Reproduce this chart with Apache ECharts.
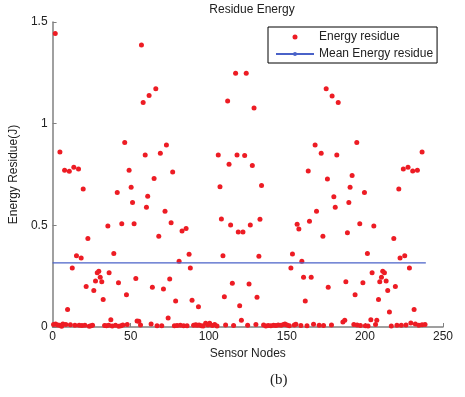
<!DOCTYPE html>
<html>
<head>
<meta charset="utf-8">
<script src="https://cdn.jsdelivr.net/npm/echarts@6/dist/echarts.min.js"></script>
<style>html,body{margin:0;padding:0;background:#fff;}#c{width:465px;height:397px;}</style>
</head>
<body>
<div id="c"></div>
<script>
// Nodes with noticeable residual energy
var highNodes = [1.7,4.7,7.7,10.7,13.6,16.6,19.6,15.3,18.3,12.6,22.6,21.5,9.6,26.4,27.5,28.6,29.6,30.5,31.5,32.4,
  35.4,36.2,39.2,37.3,41.4,42.2,44.3,46.2,47.3,49.0,50.3,51.2,52.2,53.3,54.1,55.2,56.9,58.0,59.3,60.1,60.9,61.8,
  66.1,65.0,69.0,72.9,76.9,72.0,75.9,68.0,82.9,85.5,87.4,81.0,88.2,75.0,63.9,71.0,78.8,89.3,93.4,74.0,
  117.2,124.0,112.1,106.1,118.1,123.0,113.0,107.2,108.1,114.0,118.9,121.9,126.6,109.1,115.1,125.8,110.0,119.8,120.9,
  129.0,127.9,133.8,132.8,132.1,130.9,153.6,152.6,159.6,160.7,165.6,161.8,156.6,157.7,164.5,169.0,173.1,163.7,168.1,
  172.0,176.0,180.1,181.0,182.0,175.2,179.0,182.9,176.5,187.8,188.8,189.7,190.5,194.8,191.8,199.7,196.7,205.7,201.6,
  198.7,193.7,204.6,211.4,212.5,210.6,209.5,213.6,214.6,219.5,208.7,215.7,203.8,207.6,218.5,222.5,225.5,228.5,231.5,
  221.7,224.6,227.6,230.6,233.6,236.6];
var highEnergy = [1.443,0.861,0.771,0.766,0.786,0.777,0.679,0.351,0.339,0.290,0.435,0.199,0.086,0.180,0.226,0.267,0.274,0.245,0.222,0.135,
  0.497,0.267,0.362,0.036,0.661,0.218,0.508,0.907,0.159,0.771,0.687,0.612,0.508,0.238,0.030,0.028,1.387,1.104,0.846,0.589,0.643,1.138,
  1.172,0.730,0.854,0.895,0.762,0.569,0.513,0.446,0.472,0.484,0.358,0.323,0.290,0.236,0.195,0.187,0.128,0.131,0.100,0.044,
  1.248,1.248,1.112,0.846,0.846,0.843,0.800,0.690,0.531,0.502,0.467,0.467,0.502,0.351,0.215,0.212,0.149,0.105,0.033,
  1.077,0.794,0.696,0.530,0.348,0.146,0.359,0.290,0.323,0.245,0.245,0.128,0.505,0.482,0.520,0.569,0.446,0.767,0.895,
  0.854,0.728,0.641,0.589,0.846,1.172,1.136,1.104,0.195,0.222,0.464,0.612,0.687,0.907,0.745,0.661,0.508,0.497,0.362,
  0.218,0.159,0.267,0.274,0.267,0.245,0.222,0.226,0.180,0.199,0.135,0.074,0.036,0.033,0.435,0.339,0.351,0.290,0.086,
  0.679,0.777,0.786,0.767,0.771,0.861];
// Nearly depleted nodes
var lowNodes = [0.6,1.9,3.3,4.5,5.8,6.6,8.5,11.4,14.3,17.0,18.8,20.7,23.5,24.6,25.6,33.3,34.5,36.0,38.2,40.3,42.4,43.8,45.0,47.8,
  56.3,63.1,66.9,69.9,78.0,79.7,81.8,83.9,86.1,90.3,91.6,92.5,93.8,95.3,96.4,98.0,99.5,100.6,102.3,103.8,105.3,110.8,115.9,
  124.9,130.2,135.1,136.6,138.1,139.8,141.5,143.0,144.5,146.3,147.9,148.8,150.1,151.6,154.8,155.8,159.0,162.9,167.1,170.7,
  173.5,178.6,185.9,187.1,192.9,195.0,197.1,200.3,202.0,206.8,216.9,220.5,223.3,226.3,229.4,232.3,234.5,236.6,238.5];
var lowEnergy = [0.012,0.015,0.010,0.008,0.004,0.015,0.012,0.011,0.009,0.008,0.007,0.008,0.004,0.006,0.009,0.007,0.006,0.008,0.005,0.008,0.004,0.006,0.010,0.012,
  0.010,0.015,0.006,0.006,0.006,0.007,0.008,0.006,0.006,0.009,0.011,0.008,0.010,0.006,0.005,0.018,0.010,0.018,0.007,0.012,0.005,0.010,0.007,
  0.008,0.012,0.010,0.005,0.007,0.006,0.009,0.007,0.010,0.008,0.012,0.015,0.010,0.006,0.010,0.013,0.007,0.006,0.014,0.008,
  0.007,0.010,0.025,0.033,0.012,0.010,0.007,0.006,0.005,0.012,0.005,0.008,0.009,0.010,0.020,0.015,0.008,0.011,0.012];
var meanNodes = [0, 239];
var meanValue = 0.315;
var xTicks = [0, 50, 100, 150, 200, 250];
var yTicks = [0, 0.5, 1, 1.5];

var pts = [];
highNodes.forEach(function(x, i){ pts.push([x, highEnergy[i]]); });
lowNodes.forEach(function(x, i){ pts.push([x, lowEnergy[i]]); });
var meanLine = meanNodes.map(function(x){ return [x, meanValue]; });

var font = 'Liberation Sans, Arial, sans-serif';
var chart = echarts.init(document.getElementById('c'));
chart.setOption({
  animation: false,
  backgroundColor: '#fff',
  title: {
    text: 'Residue Energy', left: 247, top: -1, textAlign: 'center',
    textStyle: {fontFamily: font, fontSize: 12, fontWeight: 'normal', color: '#222'}
  },
  legend: {
    orient: 'vertical', left: 268, top: 27,
    itemWidth: 38, itemHeight: 5, itemGap: 3,
    padding: [3, 4, 2, 7],
    borderColor: '#000', borderWidth: 1,
    textStyle: {fontFamily: font, fontSize: 12, color: '#222', lineHeight: 14},
    data: ['Energy residue', 'Mean Energy residue']
  },
  grid: {left: 52, right: 22, top: 22, bottom: 70},
  xAxis: {
    type: 'value', min: xTicks[0], max: xTicks[xTicks.length-1], interval: 50,
    name: 'Sensor Nodes', nameLocation: 'middle', nameGap: 20,
    nameTextStyle: {fontFamily: font, fontSize: 12, color: '#222'},
    axisLine: {show: true, lineStyle: {color: '#808080', width: 1.5}},
    axisTick: {show: true, inside: true, length: 4, lineStyle: {color: '#808080'}},
    axisLabel: {fontFamily: font, fontSize: 12, color: '#222', margin: 4},
    splitLine: {show: false}
  },
  yAxis: {
    type: 'value', min: yTicks[0], max: yTicks[yTicks.length-1], interval: 0.5,
    name: 'Energy Residue(J)', nameLocation: 'middle', nameGap: 30,
    nameTextStyle: {fontFamily: font, fontSize: 12, color: '#222'},
    axisLine: {show: true, lineStyle: {color: '#808080', width: 1.5}},
    axisTick: {show: true, inside: true, length: 4, lineStyle: {color: '#808080'}},
    axisLabel: {fontFamily: font, fontSize: 12, color: '#222', margin: 5},
    splitLine: {show: false}
  },
  series: [
    {
      name: 'Energy residue', type: 'scatter', data: pts,
      symbol: 'circle', symbolSize: 5,
      itemStyle: {color: '#ed1c24', opacity: 1}
    },
    {
      name: 'Mean Energy residue', type: 'line', data: meanLine,
      symbol: 'none', lineStyle: {color: '#4a62c8', width: 1.2},
      itemStyle: {color: '#4a62c8'}
    }
  ],
  graphic: [{
    type: 'text', left: 270, top: 373,
    style: {text: '(b)', fontFamily: 'Liberation Serif, Times New Roman, serif', fontSize: 15, fill: '#222'}
  }]
});
</script>
</body>
</html>
